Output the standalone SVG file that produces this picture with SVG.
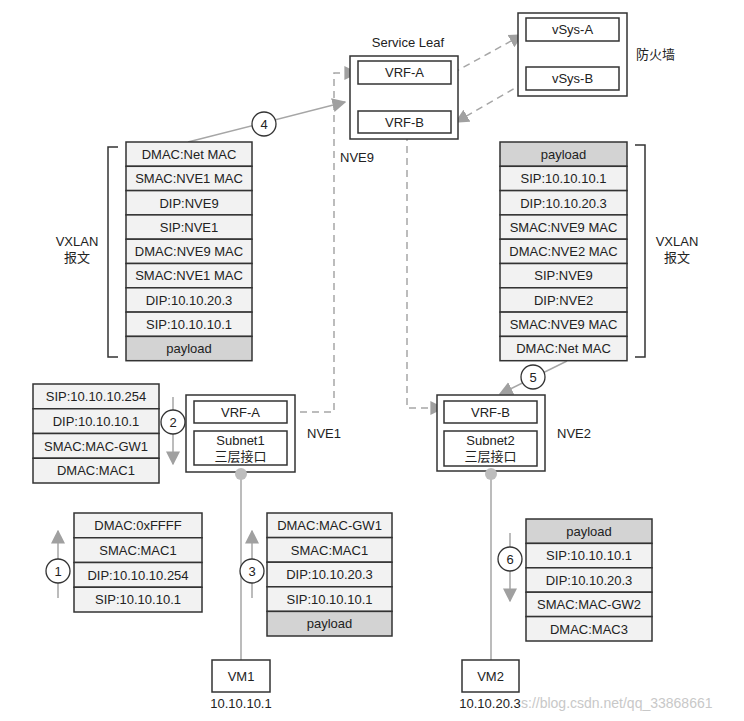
<svg xmlns="http://www.w3.org/2000/svg" width="744" height="721" viewBox="0 0 744 721">
<style>
text{font-family:"Liberation Sans",Arial,sans-serif;font-size:13px;fill:#222;text-anchor:middle}
.lbl{text-anchor:start}
.row{fill:#f2f2f2;stroke:#333;stroke-width:1.5}
.pay{fill:#d3d3d3;stroke:#333;stroke-width:1.5}
.box{fill:#fff;stroke:#333;stroke-width:1.5}
.dash{fill:none;stroke:#a6a6a6;stroke-width:1.5;stroke-dasharray:7,5}
.solid{fill:none;stroke:#a6a6a6;stroke-width:1.5}
.num{fill:#fff;stroke:#333;stroke-width:1.3}
.br{fill:none;stroke:#333;stroke-width:1.5}
.cjk{font-family:"Liberation Sans","Noto Sans CJK SC",sans-serif}
</style>
<defs>
<marker id="ah" viewBox="0 0 10 10" refX="9" refY="5" markerWidth="14" markerHeight="14" markerUnits="userSpaceOnUse" orient="auto">
<path d="M0,0 L10,5 L0,10 z" fill="#a0a0a0"/>
</marker>
</defs>
<rect width="744" height="721" fill="#fff"/>

<g id="connectors">
<path class="dash" d="M453,73 L522,35" marker-end="url(#ah)"/>
<path class="dash" d="M524,83 L456,122" marker-end="url(#ah)"/>
<path class="solid" d="M573,41 L573,66" marker-end="url(#ah)"/>
<path class="dash" d="M288,412 L334,412 L334,73 L357,73" marker-end="url(#ah)"/>
<path class="dash" d="M407,134 L407,408 L443,408" marker-end="url(#ah)"/>
<path class="solid" d="M188,142 L345,102" marker-end="url(#ah)"/>
<path class="solid" d="M567,361 L500,394" marker-end="url(#ah)"/>
<path class="solid" d="M241,474 L241,660"/>
<path class="solid" d="M491,474 L491,660"/>
<path class="solid" d="M173,397 L173,464" marker-end="url(#ah)"/>
<path class="solid" d="M58,598 L58,531" marker-end="url(#ah)"/>
<path class="solid" d="M252,598 L252,531" marker-end="url(#ah)"/>
<path class="solid" d="M510,533 L510,601" marker-end="url(#ah)"/>
</g>

<g id="service-leaf">
<text x="408" y="47">Service Leaf</text>
<rect class="box" x="350" y="56" width="108" height="83"/>
<rect class="box" x="358" y="61" width="93" height="23"/>
<text x="404.5" y="77">VRF-A</text>
<rect class="box" x="358" y="111" width="93" height="22"/>
<text x="404.5" y="127">VRF-B</text>
<text class="lbl" x="340" y="162">NVE9</text>
</g>

<g id="firewall">
<rect class="box" x="518" y="13" width="109" height="83"/>
<rect class="box" x="526" y="18" width="93" height="23"/>
<text x="572.5" y="34">vSys-A</text>
<rect class="box" x="526" y="67" width="93" height="23"/>
<text x="572.5" y="83">vSys-B</text>
<text class="lbl cjk" x="636" y="59">防火墙</text>
</g>

<g id="circle4"><circle class="num" cx="264" cy="124" r="12"/><text x="264" y="129">4</text></g>
<g id="circle5"><circle class="num" cx="533" cy="377" r="12"/><text x="533" y="382">5</text></g>
<g id="circle2"><circle class="num" cx="173" cy="422" r="12"/><text x="173" y="427">2</text></g>
<g id="circle1"><circle class="num" cx="58" cy="571" r="12"/><text x="58" y="576">1</text></g>
<g id="circle3"><circle class="num" cx="252" cy="571" r="12"/><text x="252" y="576">3</text></g>
<g id="circle6"><circle class="num" cx="510" cy="559" r="12"/><text x="510" y="564">6</text></g>

<g id="vxlan-left">
<path class="br" d="M118,147 L108,147 L108,357 L118,357"/>
<text x="77" y="246">VXLAN</text>
<text class="cjk" x="77" y="262">报文</text>
<rect class="row" x="126" y="142" width="126" height="24.3"/><text x="189" y="159">DMAC:Net MAC</text>
<rect class="row" x="126" y="166.3" width="126" height="24.3"/><text x="189" y="183">SMAC:NVE1 MAC</text>
<rect class="row" x="126" y="190.6" width="126" height="24.3"/><text x="189" y="207.5">DIP:NVE9</text>
<rect class="row" x="126" y="214.9" width="126" height="24.3"/><text x="189" y="231.8">SIP:NVE1</text>
<rect class="row" x="126" y="239.2" width="126" height="24.3"/><text x="189" y="256">DMAC:NVE9 MAC</text>
<rect class="row" x="126" y="263.5" width="126" height="24.3"/><text x="189" y="280.4">SMAC:NVE1 MAC</text>
<rect class="row" x="126" y="287.8" width="126" height="24.3"/><text x="189" y="304.7">DIP:10.10.20.3</text>
<rect class="row" x="126" y="312.1" width="126" height="24.3"/><text x="189" y="329">SIP:10.10.10.1</text>
<rect class="pay" x="126" y="336.4" width="126" height="24.3"/><text x="189" y="353.3">payload</text>
</g>

<g id="vxlan-right">
<path class="br" d="M635,145 L645,145 L645,357 L635,357"/>
<text x="677" y="246">VXLAN</text>
<text class="cjk" x="677" y="262">报文</text>
<rect class="pay" x="500" y="142" width="127" height="24.3"/><text x="563.5" y="159">payload</text>
<rect class="row" x="500" y="166.3" width="127" height="24.3"/><text x="563.5" y="183">SIP:10.10.10.1</text>
<rect class="row" x="500" y="190.6" width="127" height="24.3"/><text x="563.5" y="207.5">DIP:10.10.20.3</text>
<rect class="row" x="500" y="214.9" width="127" height="24.3"/><text x="563.5" y="231.8">SMAC:NVE9 MAC</text>
<rect class="row" x="500" y="239.2" width="127" height="24.3"/><text x="563.5" y="256">DMAC:NVE2 MAC</text>
<rect class="row" x="500" y="263.5" width="127" height="24.3"/><text x="563.5" y="280.4">SIP:NVE9</text>
<rect class="row" x="500" y="287.8" width="127" height="24.3"/><text x="563.5" y="304.7">DIP:NVE2</text>
<rect class="row" x="500" y="312.1" width="127" height="24.3"/><text x="563.5" y="329">SMAC:NVE9 MAC</text>
<rect class="row" x="500" y="336.4" width="127" height="24.3"/><text x="563.5" y="353.3">DMAC:Net MAC</text>
</g>

<g id="stack2">
<rect class="row" x="33" y="384" width="126" height="24.75"/><text x="96" y="401">SIP:10.10.10.254</text>
<rect class="row" x="33" y="408.75" width="126" height="24.75"/><text x="96" y="425.8">DIP:10.10.10.1</text>
<rect class="row" x="33" y="433.5" width="126" height="24.75"/><text x="96" y="450.5">SMAC:MAC-GW1</text>
<rect class="row" x="33" y="458.25" width="126" height="24.75"/><text x="96" y="475.3">DMAC:MAC1</text>
</g>

<g id="nve1">
<rect class="box" x="186" y="395" width="109" height="77"/>
<rect class="box" x="194" y="401" width="93" height="22"/>
<text x="240.5" y="417">VRF-A</text>
<rect class="box" x="194" y="431" width="93" height="34"/>
<text x="240.5" y="445">Subnet1</text>
<text class="cjk" x="240.5" y="461">三层接口</text>
<circle cx="241" cy="474" r="6" fill="#bdbdbd"/>
<text class="lbl" x="307" y="438">NVE1</text>
</g>

<g id="nve2">
<rect class="box" x="437" y="395" width="108" height="76"/>
<rect class="box" x="444" y="401" width="93" height="22"/>
<text x="490.5" y="417">VRF-B</text>
<rect class="box" x="444" y="431" width="93" height="35"/>
<text x="490.5" y="445">Subnet2</text>
<text class="cjk" x="490.5" y="461">三层接口</text>
<circle cx="491" cy="474" r="6" fill="#bdbdbd"/>
<text class="lbl" x="557" y="438">NVE2</text>
</g>

<g id="stack1">
<rect class="row" x="74" y="513" width="128" height="24.75"/><text x="138" y="530">DMAC:0xFFFF</text>
<rect class="row" x="74" y="537.75" width="128" height="24.75"/><text x="138" y="554.8">SMAC:MAC1</text>
<rect class="row" x="74" y="562.5" width="128" height="24.75"/><text x="138" y="579.5">DIP:10.10.10.254</text>
<rect class="row" x="74" y="587.25" width="128" height="24.75"/><text x="138" y="604.3">SIP:10.10.10.1</text>
</g>

<g id="stack3">
<rect class="row" x="267" y="513" width="125" height="24.6"/><text x="329.5" y="530">DMAC:MAC-GW1</text>
<rect class="row" x="267" y="537.6" width="125" height="24.6"/><text x="329.5" y="554.6">SMAC:MAC1</text>
<rect class="row" x="267" y="562.2" width="125" height="24.6"/><text x="329.5" y="579.2">DIP:10.10.20.3</text>
<rect class="row" x="267" y="586.8" width="125" height="24.6"/><text x="329.5" y="603.8">SIP:10.10.10.1</text>
<rect class="pay" x="267" y="611.4" width="125" height="24.6"/><text x="329.5" y="628.4">payload</text>
</g>

<g id="stack6">
<rect class="pay" x="526" y="519" width="126" height="24.4"/><text x="589" y="536">payload</text>
<rect class="row" x="526" y="543.4" width="126" height="24.4"/><text x="589" y="560.4">SIP:10.10.10.1</text>
<rect class="row" x="526" y="567.8" width="126" height="24.4"/><text x="589" y="584.8">DIP:10.10.20.3</text>
<rect class="row" x="526" y="592.2" width="126" height="24.4"/><text x="589" y="609.2">SMAC:MAC-GW2</text>
<rect class="row" x="526" y="616.6" width="126" height="24.4"/><text x="589" y="633.6">DMAC:MAC3</text>
</g>

<g id="vm1">
<rect class="box" x="212" y="660" width="58" height="32"/>
<text x="241" y="681">VM1</text>
<text x="241" y="708">10.10.10.1</text>
</g>

<g id="vm2">
<rect class="box" x="462" y="660" width="57" height="32"/>
<text x="490.5" y="681">VM2</text>
<text class="lbl" x="521" y="708" style="fill:#c8c8c8;font-size:14px">s://blog.csdn.net/qq_33868661</text>
<text x="490" y="708">10.10.20.3</text>
</g>
</svg>
